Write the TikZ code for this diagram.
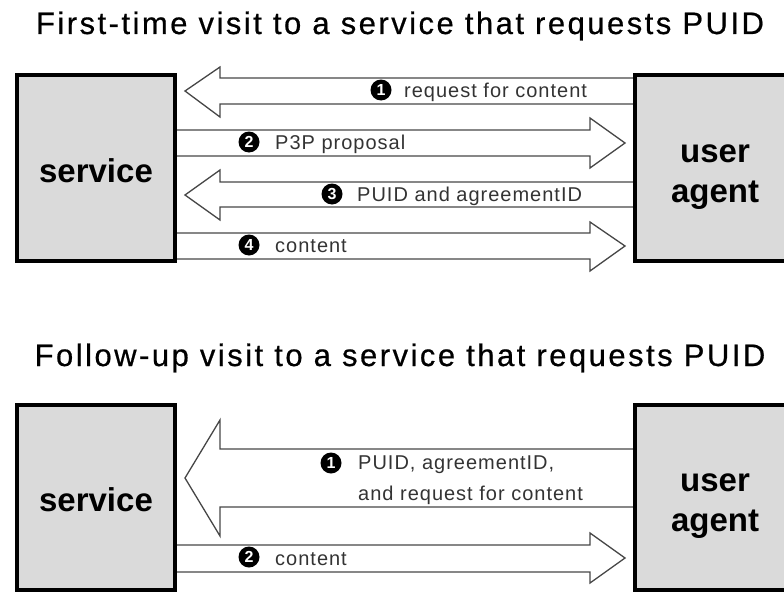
\documentclass[tikz,border=0pt]{standalone}
\usepackage{fontspec}
\setmainfont{Liberation Sans}
\usetikzlibrary{positioning,calc,backgrounds}

\begin{document}
\begin{tikzpicture}[x=1pt,y=-1pt]
	\definecolor{boxgray}{RGB}{218,218,218}
	\definecolor{wiregray}{RGB}{70,70,70}
	\tikzset{
		party/.style={
			draw=black,
			line width=4pt,
			fill=boxgray,
			inner sep=0pt,
			align=center,
			font=\fontsize{33}{40}\selectfont\bfseries
		},
		msgarrow/.style={
			draw=wiregray,
			line width=1.3pt,
			line join=miter
		},
		stepnum/.style={
			circle,
			fill=black,
			text=white,
			inner sep=0pt,
			minimum size=21pt,
			font=\fontsize{16}{16}\selectfont\bfseries
		},
		msgtext/.style={
			inner sep=0pt,
			anchor=base west,
			align=left,
			text=black!80,
			font=\fontsize{20}{31}\selectfont\addfontfeatures{LetterSpace=5}
		},
		headline/.style={
			inner sep=0pt,
			anchor=base,
			font=\fontsize{31}{34}\selectfont\addfontfeatures{LetterSpace=8,FakeBold=0.6}
		}
	}
	\useasboundingbox (0,0) rectangle (784,594);
	\clip (0,0) rectangle (784,594);
	
	% ======= first visit =======
	\node[headline] (title1) at (400,34) {First-time visit to a service that requests PUID};
	
	\node[party, minimum width=158pt, minimum height=186pt, text height=28pt, text depth=0pt] (svc1) at (96,168) {service};
	\node[party, minimum width=160pt, minimum height=186pt, text height=68pt, text depth=0pt] (ua1) at (715,168) {user\\agent};
	
	\coordinate (ltip) at ($(svc1.east)+(8,0)$);
	\coordinate (lbase) at ($(svc1.east)+(43,0)$);
	\coordinate (rtip) at ($(ua1.west)+(-8,0)$);
	\coordinate (rbase) at ($(ua1.west)+(-43,0)$);
	
	\begin{scope}[on background layer]
		% 1: request for content
		\draw[msgarrow] (ua1.west |- 0,78) -- (lbase |- 0,78) -- (lbase |- 0,67) -- (ltip |- 0,91)
			-- (lbase |- 0,117) -- (lbase |- 0,104) -- (ua1.west |- 0,104);
		% 2: P3P proposal
		\draw[msgarrow] (svc1.east |- 0,130) -- (rbase |- 0,130) -- (rbase |- 0,118) -- (rtip |- 0,143)
			-- (rbase |- 0,168) -- (rbase |- 0,156) -- (svc1.east |- 0,156);
		% 3: PUID and agreementID
		\draw[msgarrow] (ua1.west |- 0,182) -- (lbase |- 0,182) -- (lbase |- 0,170) -- (ltip |- 0,195)
			-- (lbase |- 0,220) -- (lbase |- 0,207) -- (ua1.west |- 0,207);
		% 4: content
		\draw[msgarrow] (svc1.east |- 0,233) -- (rbase |- 0,233) -- (rbase |- 0,222) -- (rtip |- 0,246)
			-- (rbase |- 0,271) -- (rbase |- 0,259) -- (svc1.east |- 0,259);
	\end{scope}
	
	\node[stepnum] (a1) at (381,90) {1};
	\node[msgtext] (m1) at (404,97) {request for content};
	\node[stepnum] (a2) at (249,142) {2};
	\node[msgtext] (m2) at (275,149) {P3P proposal};
	\node[stepnum] (a3) at (332,194) {3};
	\node[msgtext] (m3) at (357,201) {PUID and agreementID};
	\node[stepnum] (a4) at (249,245) {4};
	\node[msgtext] (m4) at (275,252) {content};
	
	% ======= follow-up visit =======
	\node[headline] (title2) at (400,366) {Follow-up visit to a service that requests PUID};
	
	\node[party, minimum width=158pt, minimum height=185pt, text height=28pt, text depth=0pt] (svc2) at (96,497.5) {service};
	\node[party, minimum width=160pt, minimum height=185pt, text height=68pt, text depth=0pt] (ua2) at (715,497.5) {user\\agent};
	
	\begin{scope}[on background layer]
		% 1: PUID, agreementID, request
		\draw[msgarrow] (ua2.west |- 0,449) -- (lbase |- 0,449) -- (lbase |- 0,420) -- (ltip |- 0,478)
			-- (lbase |- 0,536) -- (lbase |- 0,507) -- (ua2.west |- 0,507);
		% 2: content
		\draw[msgarrow] (svc2.east |- 0,545) -- (rbase |- 0,545) -- (rbase |- 0,533) -- (rtip |- 0,558)
			-- (rbase |- 0,583) -- (rbase |- 0,572) -- (svc2.east |- 0,572);
	\end{scope}
	
	\node[stepnum] (b1) at (331,463) {1};
	\node[msgtext, anchor=west] (n1) at (358,480) {PUID, agreementID,\\and request for content};
	\node[stepnum] (b2) at (249,557) {2};
	\node[msgtext] (n2) at (275,565) {content};
\end{tikzpicture}
\end{document}
